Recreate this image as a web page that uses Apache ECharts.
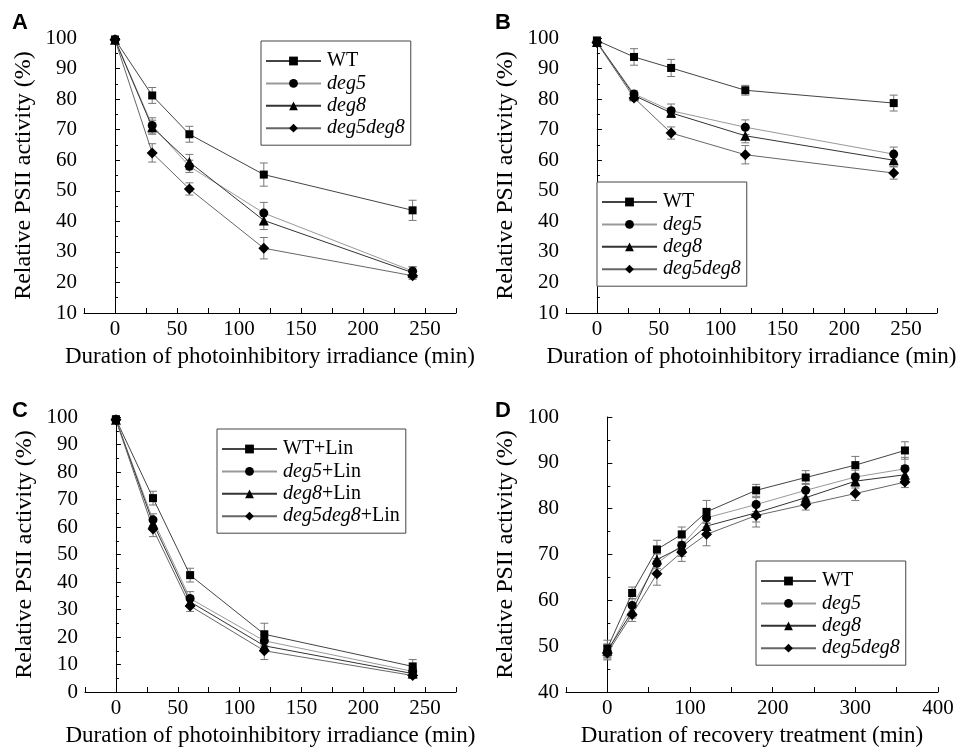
<!DOCTYPE html>
<html>
<head>
<meta charset="utf-8">
<script src="https://cdn.jsdelivr.net/npm/echarts@6/dist/echarts.min.js"></script>
<style>
  html, body { margin: 0; padding: 0; background: #fff; }
  #chart { width: 966px; height: 755px; }
</style>
</head>
<body>
<div id="chart"></div>
<script>
// ── 数据 ──
const xPhoto = [0, 30, 60, 120, 240];
const xRecovery = [0, 30, 60, 90, 120, 180, 240, 300, 360];

const genotypes = ['WT', 'deg5', 'deg8', 'deg5deg8'];
const linNames = ['WT+Lin', 'deg5+Lin', 'deg8+Lin', 'deg5deg8+Lin'];

// A: photoinhibition
const A_WT = [99.5, 81.2, 68.5, 55.3, 43.6];
const A_deg5 = [99.5, 71.4, 58.0, 42.7, 23.7];
const A_deg8 = [99.4, 70.8, 59.4, 40.3, 23.2];
const A_deg5deg8 = [99.4, 62.4, 50.6, 31.2, 22.2];
const A_WT_err = [0.5, 2.6, 2.6, 3.8, 3.3];
const A_deg5_err = [0.5, 2.5, 2.0, 3.5, 1.5];
const A_deg8_err = [0.5, 2.3, 2.5, 3.0, 1.8];
const A_deg5deg8_err = [0.5, 3.0, 2.0, 3.5, 1.2];

// B
const B_WT = [99.2, 93.8, 90.2, 82.9, 78.7];
const B_deg5 = [98.6, 81.7, 76.2, 70.8, 62.0];
const B_deg8 = [98.7, 81.2, 75.5, 68.0, 60.0];
const B_deg5deg8 = [98.5, 80.4, 68.9, 61.8, 55.8];
const B_WT_err = [0.5, 2.7, 2.8, 1.6, 2.6];
const B_deg5_err = [0.5, 1.0, 2.2, 2.4, 2.3];
const B_deg8_err = [0.5, 1.0, 1.5, 2.3, 2.0];
const B_deg5deg8_err = [0.5, 1.0, 2.0, 3.0, 2.0];

// C: + lincomycin
const C_WT = [99.2, 70.5, 42.5, 21.0, 9.3];
const C_deg5 = [99.1, 62.6, 34.0, 18.6, 7.5];
const C_deg8 = [99.0, 61.4, 32.8, 16.8, 6.7];
const C_deg5deg8 = [99.0, 59.3, 31.3, 15.0, 6.0];
const C_WT_err = [0.5, 2.5, 2.5, 4.0, 2.5];
const C_deg5_err = [0.5, 2.2, 2.5, 2.2, 1.5];
const C_deg8_err = [0.5, 2.0, 2.0, 2.0, 1.2];
const C_deg5deg8_err = [0.5, 2.8, 2.0, 3.2, 1.0];

// D: recovery
const D_WT = [49.5, 61.6, 71.1, 74.4, 79.3, 84.0, 86.8, 89.5, 92.7];
const D_deg5 = [48.7, 58.9, 68.1, 72.0, 78.0, 80.9, 84.0, 86.9, 88.7];
const D_deg8 = [49.0, 57.6, 68.9, 71.6, 76.2, 79.1, 82.4, 86.0, 87.4];
const D_deg5deg8 = [48.5, 56.9, 65.8, 70.5, 74.4, 78.5, 80.9, 83.3, 85.8];
const D_WT_err = [1.8, 1.3, 2.0, 1.6, 2.5, 1.3, 1.5, 1.9, 1.9];
const D_deg5_err = [1.5, 1.5, 2.0, 1.8, 2.0, 1.5, 1.5, 1.5, 2.5];
const D_deg8_err = [1.5, 1.5, 2.0, 2.0, 2.0, 2.0, 1.5, 1.5, 2.0];
const D_deg5deg8_err = [1.5, 1.5, 2.5, 2.0, 2.5, 2.5, 1.2, 1.5, 1.2];

const FONT = '"Liberation Serif", "Times New Roman", serif';
const SYMBOLS = ['rect', 'circle', 'triangle', 'diamond'];
const SYMBOL_SIZES = [8, 9, 10, 11];
const LINE_COLORS = ['#444', '#999', '#333', '#666'];

const panels = [
  { label: 'A', x: xPhoto, names: genotypes,
    vals: [A_WT, A_deg5, A_deg8, A_deg5deg8], errs: [A_WT_err, A_deg5_err, A_deg8_err, A_deg5deg8_err],
    grid: { left: 84, top: 38, width: 372, height: 275 },
    xMin: -25, xMax: 275, xInt: 25, xStep: 50, yMin: 10, yMax: 100,
    xName: 'Duration of photoinhibitory irradiance (min)',
    legend: { left: 261, top: 41 }, labelPos: [12, 12] },
  { label: 'B', x: xPhoto, names: genotypes,
    vals: [B_WT, B_deg5, B_deg8, B_deg5deg8], errs: [B_WT_err, B_deg5_err, B_deg8_err, B_deg5deg8_err],
    grid: { left: 566, top: 38, width: 371, height: 275 },
    xMin: -25, xMax: 275, xInt: 25, xStep: 50, yMin: 10, yMax: 100,
    xName: 'Duration of photoinhibitory irradiance (min)',
    legend: { left: 597, top: 182 }, labelPos: [495, 12] },
  { label: 'C', x: xPhoto, names: linNames,
    vals: [C_WT, C_deg5, C_deg8, C_deg5deg8], errs: [C_WT_err, C_deg5_err, C_deg8_err, C_deg5deg8_err],
    grid: { left: 85, top: 417, width: 371, height: 275 },
    xMin: -25, xMax: 275, xInt: 25, xStep: 50, yMin: 0, yMax: 100,
    xName: 'Duration of photoinhibitory irradiance (min)',
    legend: { left: 217, top: 429 }, labelPos: [12, 400] },
  { label: 'D', x: xRecovery, names: genotypes,
    vals: [D_WT, D_deg5, D_deg8, D_deg5deg8], errs: [D_WT_err, D_deg5_err, D_deg8_err, D_deg5deg8_err],
    grid: { left: 566, top: 417, width: 372, height: 275 },
    xMin: -50, xMax: 400, xInt: 50, xStep: 100, yMin: 40, yMax: 100,
    xName: 'Duration of recovery treatment (min)',
    legend: { left: 756, top: 561 }, labelPos: [495, 400] },
];

// 误差线
function renderErr(params, api) {
  const x = api.value(0);
  const lo = api.coord([x, api.value(1)]);
  const hi = api.coord([x, api.value(2)]);
  const w = 4;
  const style = { stroke: '#777', lineWidth: 1 };
  return {
    type: 'group',
    children: [
      { type: 'line', shape: { x1: lo[0], y1: lo[1], x2: hi[0], y2: hi[1] }, style },
      { type: 'line', shape: { x1: lo[0] - w, y1: lo[1], x2: lo[0] + w, y2: lo[1] }, style },
      { type: 'line', shape: { x1: hi[0] - w, y1: hi[1], x2: hi[0] + w, y2: hi[1] }, style },
    ],
  };
}

function legendFormatter(name) {
  const m = name.match(/^(deg5deg8|deg5|deg8)(.*)$/);
  return m ? `{i|${m[1]}}${m[2]}` : name;
}

const grid = [], xAxis = [], yAxis = [], series = [], legend = [], graphic = [];

panels.forEach((p, pi) => {
  grid.push(p.grid);
  xAxis.push({
    gridIndex: pi, type: 'value', min: p.xMin, max: p.xMax, interval: p.xInt,
    axisLine: { lineStyle: { color: '#000', width: 1 } },
    axisTick: { inside: true, length: 5, lineStyle: { color: '#000' } },
    axisLabel: {
      color: '#000', fontFamily: FONT, fontSize: 21, margin: 6,
      formatter: v => (v >= 0 && v % p.xStep === 0) ? String(v) : '',
    },
    splitLine: { show: false },
    name: p.xName, nameLocation: 'middle', nameGap: 32,
    nameTextStyle: { color: '#000', fontFamily: FONT, fontSize: 23 },
  });
  yAxis.push({
    gridIndex: pi, type: 'value', min: p.yMin, max: p.yMax, interval: 10,
    axisLine: { show: true, lineStyle: { color: '#000', width: 1 } },
    axisTick: { show: true, inside: true, length: 5, lineStyle: { color: '#000' } },
    minorTick: { show: true, splitNumber: 2, length: 3, lineStyle: { color: '#000' } },
    axisLabel: { color: '#000', fontFamily: FONT, fontSize: 21, margin: 7 },
    splitLine: { show: false },
    name: 'Relative PSII activity (%)', nameLocation: 'middle', nameGap: 48,
    nameTextStyle: { color: '#000', fontFamily: FONT, fontSize: 24 },
  });

  p.names.forEach((name, si) => {
    series.push({
      type: 'custom', name: `err_${p.label}_${si}`,
      xAxisIndex: pi, yAxisIndex: pi, z: 1, silent: true,
      renderItem: renderErr,
      encode: { x: 0, y: [1, 2] },
      data: p.x.map((x, k) => [x, p.vals[si][k] - p.errs[si][k], p.vals[si][k] + p.errs[si][k]]),
    });
    series.push({
      type: 'line', name,
      xAxisIndex: pi, yAxisIndex: pi, z: 3,
      data: p.x.map((x, k) => [x, p.vals[si][k]]),
      symbol: SYMBOLS[si], symbolSize: SYMBOL_SIZES[si], showSymbol: true,
      itemStyle: { color: '#000' },
      lineStyle: { color: LINE_COLORS[si], width: 1 },
      emphasis: { disabled: true },
    });
  });

  legend.push({
    orient: 'vertical', left: p.legend.left, top: p.legend.top,
    data: p.names, selectedMode: false,
    borderColor: '#444', borderWidth: 1, backgroundColor: '#fff',
    padding: [10, 6, 7, 4], itemGap: 2.4, itemWidth: 55, itemHeight: 11,
    formatter: legendFormatter,
    textStyle: {
      color: '#000', fontFamily: FONT, fontSize: 20, padding: [0, 0, 0, 1],
      rich: { i: { color: '#000', fontFamily: FONT, fontSize: 20, fontStyle: 'italic' } },
    },
  });

  graphic.push({
    type: 'text', left: p.labelPos[0], top: p.labelPos[1],
    style: { text: p.label, fill: '#000', font: 'bold 22px "Liberation Sans", Arial, sans-serif' },
  });
});

const chart = echarts.init(document.getElementById('chart'));
chart.setOption({
  animation: false,
  backgroundColor: '#fff',
  grid, xAxis, yAxis, series, legend, graphic,
});
</script>
</body>
</html>
